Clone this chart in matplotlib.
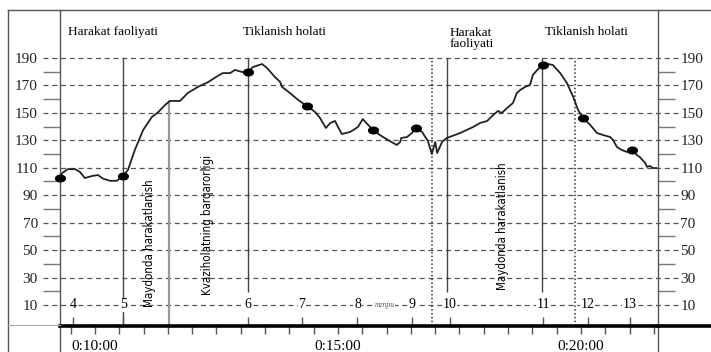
import numpy as np
import matplotlib.pyplot as plt
from matplotlib.lines import Line2D
from matplotlib.path import Path
from matplotlib.ticker import MultipleLocator, FuncFormatter

# heart rate trace: time (minutes) and pulse (beats/min)
t_min = [9.28, 9.32, 9.44, 9.59, 9.69, 9.79, 9.94, 10.06, 10.17, 10.31, 10.45, 10.58,
         10.68, 10.82, 10.99, 11.17, 11.30, 11.44, 11.54, 11.75, 11.91, 12.12, 12.33,
         12.53, 12.63, 12.78, 12.88, 13.03, 13.15, 13.25, 13.44, 13.54, 13.70, 13.81,
         13.85, 14.01, 14.18, 14.36, 14.53, 14.63, 14.75, 14.84, 14.94, 15.00, 15.08,
         15.25, 15.41, 15.51, 15.62, 15.72, 15.86, 16.03, 16.21, 16.28, 16.30, 16.42,
         16.52, 16.61, 16.73, 16.85, 16.93, 17.00, 17.04, 17.14, 17.24, 17.51, 17.78,
         17.92, 18.07, 18.17, 18.29, 18.37, 18.48, 18.60, 18.68, 18.75, 18.85, 18.95,
         19.01, 19.10, 19.16, 19.22, 19.32, 19.42, 19.57, 19.71, 19.84, 19.94, 20.04,
         20.19, 20.33, 20.45, 20.60, 20.66, 20.74, 20.84, 20.95, 21.05, 21.15, 21.21,
         21.32, 21.36, 21.42, 21.48, 21.55]
hr = [102.5, 106, 109, 109, 107, 102.5, 104, 104.7, 102, 100.5, 100.5, 104,
      108.5, 123, 137.5, 147, 150.5, 155.7, 158.7, 158.7, 164.5, 169, 172.5,
      177, 179, 179, 181.3, 179.8, 179.8, 183.4, 185.6, 182.7, 176.2, 172.5,
      168.9, 164.5, 159.4, 155, 150.6, 146.3, 139, 142.6, 144.1, 139.7, 134.6,
      136.1, 139.7, 145.5, 141.2, 137.5, 133.9, 130.2, 126.6, 128.8, 131.7, 132.4,
      135.3, 139, 136.1, 129.5, 120, 128.8, 120.7, 128.8, 131.7, 135.3, 139.7,
      142.6, 144.1, 147.7, 151.4, 149.9, 153.6, 157.2, 164.5, 166.7, 168.9, 170.3,
      177.6, 181.3, 183.4, 184.9, 185.6, 184.9, 179.1, 171.8, 161.6, 152.1, 146.3,
      141.2, 135.3, 133.9, 132.4, 130.2, 125.1, 122.9, 121.5, 122.9, 119.3, 117.8,
      113.5, 110.6, 111.3, 109.8, 109.8]

# measured points
pt_t = [9.28, 10.58, 13.15, 14.36, 15.72, 16.61, 19.22, 20.04, 21.05]
pt_hr = [102.5, 104, 179.8, 155, 137.5, 139, 184.9, 146.3, 122.9]

# numbered stages on the bottom row
num_labels = ['4', '5', '6', '7', '8', '9', '10', '11', '12', '13']
num_t = [9.55, 10.58, 13.15, 14.26, 15.40, 16.52, 17.30, 19.22, 20.14, 21.01]

# stage boundaries
solid_full = [10.58]
solid_part = [13.15, 17.25, 19.20]
dotted_full = [16.93, 19.88]
grey_line = 11.52

yticks = list(range(10, 200, 20))
time_labels = {10: '0:10:00', 15: '0:15:00', 20: '0:20:00'}

W, H = 711, 352
X0, PPM = 95, 48.6          # px of 0:10:00, px per minute
Y190, PPU = 58, 1.372       # px of 190, px per unit


def px2t(px):
    return 10 + (px - X0) / PPM


def py2v(py):
    return 190 - (py - Y190) / PPU


# flat oval marker like the hand-drawn dots
ang = np.linspace(0, 2 * np.pi, 40)
oval = Path(np.column_stack([np.cos(ang), 0.68 * np.sin(ang)]))

serif = 'Liberation Serif'
plt.rcParams['font.family'] = serif
fig = plt.figure(figsize=(W / 100, H / 100), dpi=100)
ax = fig.add_axes([60 / W, 0, (658 - 60) / W, (H - 10) / H])
ax.set_xlim(px2t(60), px2t(658))
ax.set_ylim(py2v(H), py2v(10))

base = py2v(326)

# grid
ax.hlines(yticks, px2t(43), px2t(680), colors='#555555', linewidth=0.9,
          linestyles=(0, (4, 3)), clip_on=False, zorder=1)

# stage lines
ax.vlines(solid_full, base, 190, colors='#444444', linewidth=1)
ax.vlines(solid_part, py2v(292), 190, colors='#444444', linewidth=1)
ax.vlines(dotted_full, base, 190, colors='#333333', linewidth=1.1,
          linestyles=(0, (1, 1.5)))
ax.vlines(grey_line, base, 158, colors='#999999', linewidth=1.6)
ax.vlines(num_t, py2v(317), base, colors='#555555', linewidth=1)

# heart rate curve
ax.plot(t_min, hr, color='#222222', linewidth=1.3, zorder=3)
ax.plot(pt_t, pt_hr, linestyle='none', marker=oval, color='black',
        markersize=7, zorder=4, clip_on=False)

for lab, t in zip(num_labels, num_t):
    ax.text(t, 10, lab, ha='center', va='center', fontsize=10,
            bbox=dict(facecolor='white', edgecolor='none', pad=0.5), zorder=2)
ax.text(px2t(385), 10, 'тгпри', ha='center', va='center', fontsize=5.5,
        style='italic', color='#555555',
        bbox=dict(facecolor='white', edgecolor='none', pad=0.3), zorder=2)

# phase titles
ax.text(px2t(68), py2v(32), 'Harakat faoliyati', fontsize=9.5, va='center')
ax.text(px2t(243), py2v(32), 'Tiklanish holati', fontsize=9.5, va='center')
ax.text(px2t(450), py2v(38.5), 'Harakat\nfaoliyati', fontsize=9.5, va='center',
        linespacing=0.95)
ax.text(px2t(545), py2v(32), 'Tiklanish holati', fontsize=9.5, va='center')

narrow = ['Liberation Sans Narrow', 'DejaVu Sans']
ax.text(px2t(150), py2v(243), 'Maydonda harakatlanish', rotation=90,
        ha='center', va='center', fontsize=8.3, family=narrow, stretch='condensed')
ax.text(px2t(208), py2v(225), 'Kvaziholatning barqarorligi', rotation=90,
        ha='center', va='center', fontsize=8.3, family=narrow, stretch='condensed')
ax.text(px2t(502), py2v(226), 'Maydonda harakatlanish', rotation=90,
        ha='center', va='center', fontsize=8.3, family=narrow, stretch='condensed')

# axes styling
ax.spines['top'].set_visible(False)
for s in ['left', 'right']:
    ax.spines[s].set_color('#555555')
    ax.spines[s].set_linewidth(1)
ax.spines['bottom'].set_position(('data', base))
ax.spines['bottom'].set_linewidth(2.6)
ax.spines['bottom'].set_color('black')

ax.set_yticks(yticks)
ax.set_yticks(list(range(20, 190, 20)), minor=True)
ax.tick_params(axis='y', which='major', length=0, labelsize=11,
               left=True, right=True, labelleft=True, labelright=True)
ax.tick_params(axis='y', which='major', pad=16)
ax.tick_params(axis='y', which='minor', length=12, width=1, color='#777777',
               direction='out', left=True, right=True)
for lab in ax.get_yticklabels():
    lab.set_color('#222222')

ax.xaxis.set_major_locator(MultipleLocator(5))
ax.xaxis.set_minor_locator(MultipleLocator(0.5))
ax.xaxis.set_major_formatter(FuncFormatter(lambda v, p: time_labels.get(int(round(v)), '')))
ax.tick_params(axis='x', which='both', length=6, width=1, color='#555555',
               direction='out', labelsize=11, pad=4)

# outer frame pieces
def fline(x1, y1, x2, y2, **kw):
    fig.add_artist(Line2D([x1 / W, x2 / W], [1 - y1 / H, 1 - y2 / H], **kw))


fline(8, 10, W, 10, color='#555555', linewidth=1)
fline(8, 10, 8, H, color='#555555', linewidth=1)
fline(8, 325, 60, 325, color='#aaaaaa', linewidth=0.8)
fline(658, 326, W, 326, color='black', linewidth=2.6)

fig.savefig('out.png', dpi=100)
